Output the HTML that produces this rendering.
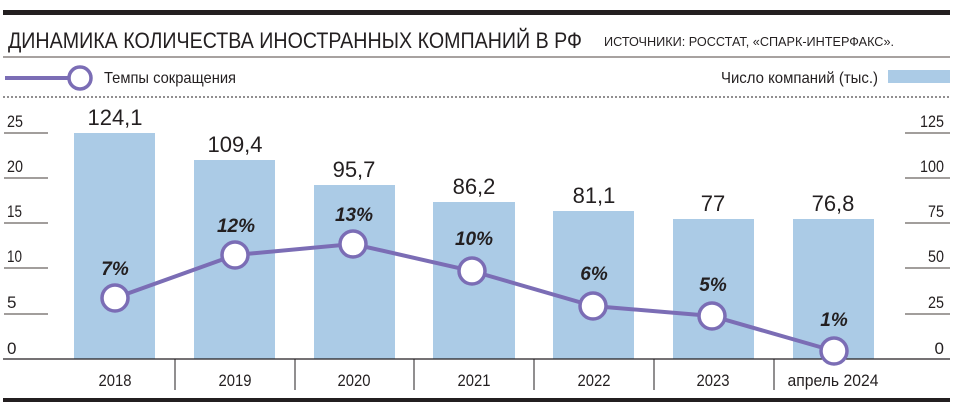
<!DOCTYPE html>
<html><head><meta charset="utf-8"><style>
html,body{margin:0;padding:0;background:#fff;}
svg{display:block;font-family:"Liberation Sans",sans-serif;}
</style></head><body>
<svg width="955" height="406" viewBox="0 0 955 406" xmlns="http://www.w3.org/2000/svg">
<rect x="3" y="10" width="947" height="5" fill="#231f20"/>
<text x="8" y="48" font-size="22" textLength="574" lengthAdjust="spacingAndGlyphs" fill="#231f20">ДИНАМИКА КОЛИЧЕСТВА ИНОСТРАННЫХ КОМПАНИЙ В РФ</text>
<text x="604" y="46" font-size="13" textLength="290" lengthAdjust="spacingAndGlyphs" fill="#231f20">ИСТОЧНИКИ: РОССТАТ, «СПАРК-ИНТЕРФАКС».</text>
<line x1="3" y1="57" x2="950" y2="57" stroke="#8a8480" stroke-width="1.5"/>
<line x1="5" y1="78" x2="68" y2="78" stroke="#7b6db5" stroke-width="4"/>
<circle cx="80" cy="78" r="11" fill="#fff" stroke="#7b6db5" stroke-width="3.5"/>
<text x="104" y="83" font-size="16" textLength="132" lengthAdjust="spacingAndGlyphs" fill="#231f20">Темпы сокращения</text>
<text x="721" y="83" font-size="16" textLength="157" lengthAdjust="spacingAndGlyphs" fill="#231f20">Число компаний (тыс.)</text>
<rect x="888" y="70" width="62" height="13" fill="#abcbe6"/>
<line x1="3" y1="97" x2="950" y2="97" stroke="#231f20" stroke-width="1" stroke-dasharray="2,2"/>
<g fill="#abcbe6">
<rect x="74" y="133" width="81" height="226"/>
<rect x="194" y="160" width="81" height="199"/>
<rect x="314" y="185" width="81" height="174"/>
<rect x="433" y="202" width="82" height="157"/>
<rect x="553" y="211" width="81" height="148"/>
<rect x="673" y="219" width="81" height="140"/>
<rect x="793" y="219" width="81" height="140"/>
</g>
<g stroke="#6b6461" stroke-width="1.2">
<line x1="4" y1="133" x2="48" y2="133"/><line x1="4" y1="178" x2="48" y2="178"/><line x1="4" y1="223" x2="48" y2="223"/><line x1="4" y1="268" x2="48" y2="268"/><line x1="4" y1="314" x2="48" y2="314"/>
<line x1="905" y1="133" x2="950" y2="133"/><line x1="905" y1="178" x2="950" y2="178"/><line x1="905" y1="223" x2="950" y2="223"/><line x1="905" y1="268" x2="950" y2="268"/><line x1="905" y1="314" x2="950" y2="314"/>
</g>
<g font-size="17" fill="#231f20">
<text x="7" y="127" textLength="16" lengthAdjust="spacingAndGlyphs">25</text>
<text x="7" y="172" textLength="16" lengthAdjust="spacingAndGlyphs">20</text>
<text x="7" y="217" textLength="15" lengthAdjust="spacingAndGlyphs">15</text>
<text x="7" y="262" textLength="15" lengthAdjust="spacingAndGlyphs">10</text>
<text x="7" y="308">5</text>
<text x="7" y="354">0</text>
<text x="944" y="127" text-anchor="end" textLength="24" lengthAdjust="spacingAndGlyphs">125</text>
<text x="944" y="172" text-anchor="end" textLength="24" lengthAdjust="spacingAndGlyphs">100</text>
<text x="944" y="217" text-anchor="end" textLength="16" lengthAdjust="spacingAndGlyphs">75</text>
<text x="944" y="262" text-anchor="end" textLength="16" lengthAdjust="spacingAndGlyphs">50</text>
<text x="944" y="308" text-anchor="end" textLength="16" lengthAdjust="spacingAndGlyphs">25</text>
<text x="944" y="354" text-anchor="end">0</text>
</g>
<g font-size="22" fill="#231f20" text-anchor="middle">
<text x="115" y="125">124,1</text>
<text x="235" y="152">109,4</text>
<text x="354" y="177">95,7</text>
<text x="474" y="194">86,2</text>
<text x="594" y="203">81,1</text>
<text x="713" y="211">77</text>
<text x="833" y="211">76,8</text>
</g>
<line x1="3" y1="359" x2="950" y2="359" stroke="#231f20" stroke-width="1.2"/>
<g stroke="#231f20" stroke-width="1">
<line x1="175" y1="359" x2="175" y2="390"/><line x1="295" y1="359" x2="295" y2="390"/><line x1="414" y1="359" x2="414" y2="390"/><line x1="534" y1="359" x2="534" y2="390"/><line x1="654" y1="359" x2="654" y2="390"/><line x1="774" y1="359" x2="774" y2="390"/>
</g>
<g font-size="17" fill="#231f20" text-anchor="middle">
<text x="115" y="386" textLength="33" lengthAdjust="spacingAndGlyphs">2018</text>
<text x="235" y="386" textLength="33" lengthAdjust="spacingAndGlyphs">2019</text>
<text x="354" y="386" textLength="33" lengthAdjust="spacingAndGlyphs">2020</text>
<text x="474" y="386" textLength="33" lengthAdjust="spacingAndGlyphs">2021</text>
<text x="594" y="386" textLength="33" lengthAdjust="spacingAndGlyphs">2022</text>
<text x="713" y="386" textLength="33" lengthAdjust="spacingAndGlyphs">2023</text>
<text x="833" y="386" textLength="91" lengthAdjust="spacingAndGlyphs">апрель 2024</text>
</g>
<rect x="3" y="398" width="947" height="4" fill="#231f20"/>
<polyline points="115,298 235,255 353,244 472,271 593,306 712,316 834,351" fill="none" stroke="#7b6db5" stroke-width="4"/>
<g fill="#fff" stroke="#7b6db5" stroke-width="3.5">
<circle cx="115" cy="298" r="13"/><circle cx="235" cy="255" r="13"/><circle cx="353" cy="244" r="13"/><circle cx="472" cy="271" r="13"/><circle cx="593" cy="306" r="13"/><circle cx="712" cy="316" r="13"/><circle cx="834" cy="351" r="13"/>
</g>
<g font-size="19" font-weight="bold" font-style="italic" fill="#231f20" text-anchor="middle">
<text x="115" y="275">7%</text>
<text x="236" y="232">12%</text>
<text x="354" y="221">13%</text>
<text x="474" y="245">10%</text>
<text x="594" y="280">6%</text>
<text x="713" y="291">5%</text>
<text x="834" y="326">1%</text>
</g>
</svg>
</body></html>
